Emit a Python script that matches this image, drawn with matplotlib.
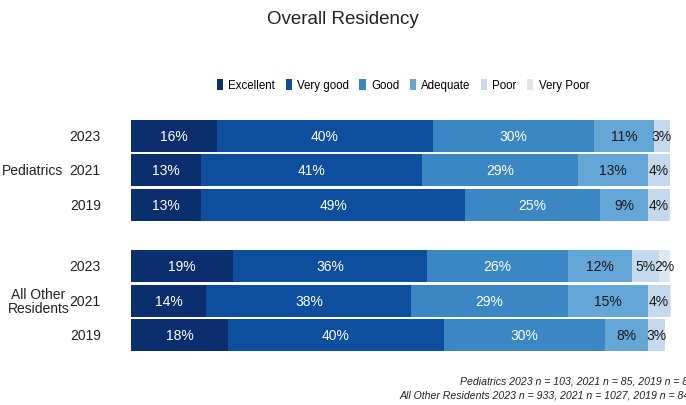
import numpy as np
import matplotlib
matplotlib.use('Agg')
import matplotlib.pyplot as plt
from matplotlib.patches import Patch

plt.rcParams['font.family'] = ['Liberation Sans Narrow', 'Liberation Sans', 'DejaVu Sans']

categories = ['Excellent', 'Very good', 'Good', 'Adequate', 'Poor', 'Very Poor']
colors = ['#0b2f6e', '#0d4f9e', '#3a87c4', '#64a7d6', '#c4d9ee', '#dce7f4']
text_colors = ['white', 'white', 'white', '#1a1a1a', '#1a1a1a', '#1a1a1a']

groups = ['Pediatrics', 'All Other\nResidents']
years = ['2023', '2021', '2019']

peds = [
    [16, 40, 30, 11, 3, 0],
    [13, 41, 29, 13, 4, 0],
    [13, 49, 25, 9, 4, 0],
]
others = [
    [19, 36, 26, 12, 5, 2],
    [14, 38, 29, 15, 4, 1],
    [18, 40, 30, 8, 3, 0],
]

fig = plt.figure(figsize=(6.86, 4.06), dpi=100)
W, H = 686, 406
ax = fig.add_axes([131 / W, (H - 360) / H, 540 / W, 245 / H])

rows = peds + others
ypos = [0, 1, 2, 3.8, 4.8, 5.8]
height = 0.93

for y, vals in zip(ypos, rows):
    left = 0
    for i, v in enumerate(vals):
        if v > 0:
            ax.barh(y, v, left=left, height=height, color=colors[i], edgecolor='none')
        if v >= 2:
            ax.text(left + v / 2, y, f'{v}%', ha='center', va='center',
                    color=text_colors[i], fontsize=10)
        left += v

ax.set_xlim(0, 100.2)
ax.set_ylim(6.5, -0.64)
ax.axis('off')

# year labels and group names to the left of the bars
for y, yr in zip(ypos, years * 2):
    ax.text(-5.6, y, yr, ha='right', va='center', fontsize=10, color='#222222')
ax.text(-12.6, 1, groups[0], ha='right', va='center', fontsize=10, color='#222222')
ax.text(-17.2, 4.8, groups[1], ha='center', va='center', fontsize=10,
        color='#222222', linespacing=1.0)

fig.text(0.5, 1 - 20 / H, 'Overall Residency', ha='center', va='center',
         fontsize=13.5, color='#222222')

handles = [Patch(facecolor=c, edgecolor='none') for c in colors]
fig.legend(handles, categories, loc='center', bbox_to_anchor=(403 / W, 1 - 86 / H),
           ncol=6, frameon=False, fontsize=8.3, handlelength=0.55, handleheight=1.1,
           handletextpad=0.45, columnspacing=0.9)

fig.text(460 / W, 1 - 382 / H, 'Pediatrics 2023 n = 103, 2021 n = 85, 2019 n = 89',
         ha='left', va='center', fontsize=7.6, style='italic', color='#222222')
fig.text(400 / W, 1 - 396 / H, 'All Other Residents 2023 n = 933, 2021 n = 1027, 2019 n = 845',
         ha='left', va='center', fontsize=7.6, style='italic', color='#222222')

fig.savefig('out.png', dpi=100)
